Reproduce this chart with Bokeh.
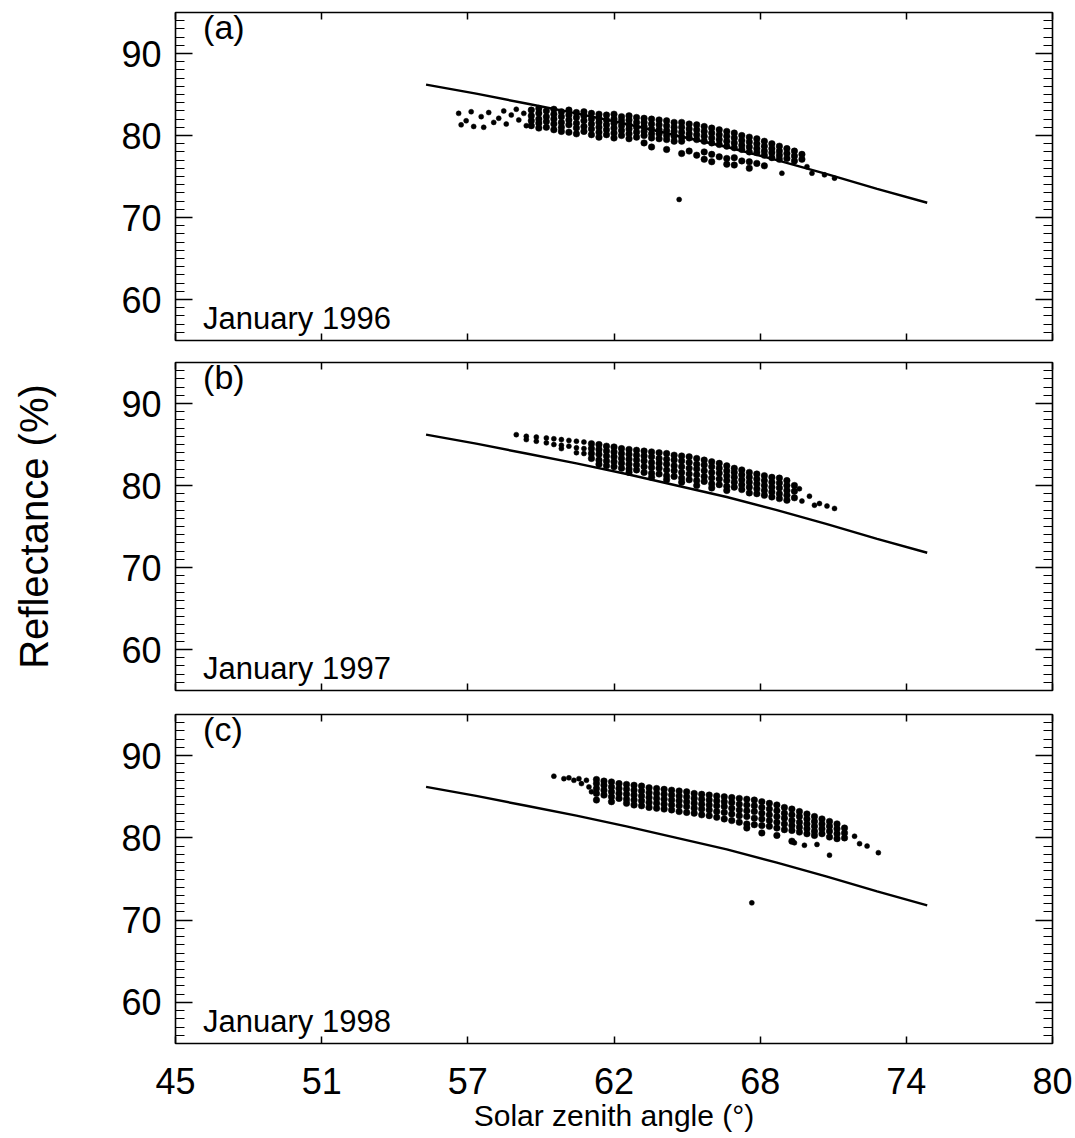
import math
from bokeh.plotting import figure
from bokeh.layouts import column
from bokeh.models import (LinearAxis, FixedTicker, CustomJSTickFormatter, Label, Range1d,
                          CustomLabelingPolicy)
from bokeh.embed import file_html
from bokeh.resources import INLINE

FONT = "Liberation Sans"

# ---------------- axes data ----------------
x_ticks = [45.0, 50.8333, 56.6667, 62.5, 68.3333, 74.1667, 80.0]
x_tick_labels = ["45", "51", "57", "62", "68", "74", "80"]
y_ticks = [60, 70, 80, 90]
y_minor = [v for v in range(55, 96)]

# ---------------- model curve (solid line, same in all panels) ----------------
model_x = [55, 57, 59, 61, 63, 65, 67, 69, 71, 73, 75]
model_y = [86.2, 85.1, 83.9, 82.7, 81.4, 80.0, 78.6, 77.0, 75.3, 73.5, 71.8]

# ---------------- (a) January 1996 ----------------
a_cols_x = [59.2, 59.5, 59.8, 60.1, 60.4, 60.7, 61.0, 61.3, 61.6, 61.9, 62.2, 62.5, 62.8,
            63.1, 63.4, 63.7, 64.0, 64.3, 64.6, 64.9, 65.2, 65.5, 65.8, 66.1, 66.4, 66.7,
            67.0, 67.3, 67.6, 67.9, 68.2, 68.5, 68.8, 69.1, 69.4, 69.7, 70.0]
a_cols_y = [
    [83.1, 82.4, 81.8, 81.2],
    [83.3, 82.7, 82.0, 81.5, 80.9],
    [83.0, 82.3, 81.7, 81.0],
    [83.2, 82.6, 82.0, 81.4, 80.7],
    [82.9, 82.3, 81.6, 81.0, 80.5],
    [83.1, 82.5, 81.9, 81.3, 80.4],
    [82.8, 82.2, 81.5, 80.9, 80.2],
    [82.9, 82.4, 81.8, 81.1, 80.5],
    [82.7, 82.0, 81.4, 80.8, 80.1],
    [82.6, 82.1, 81.6, 81.0, 80.4, 79.8],
    [82.5, 81.9, 81.3, 80.7, 80.1],
    [82.6, 82.0, 81.5, 80.9, 80.3, 79.7],
    [82.3, 81.8, 81.2, 80.6, 80.0],
    [82.4, 81.9, 81.3, 80.8, 80.2, 79.6],
    [82.2, 81.6, 81.0, 80.4, 79.8],
    [82.1, 81.6, 81.1, 80.5, 80.0, 79.1],
    [82.0, 81.4, 80.8, 80.2, 79.7, 78.6],
    [81.9, 81.3, 80.7, 80.2, 79.6],
    [81.8, 81.2, 80.6, 80.0, 79.5, 78.3],
    [81.6, 81.0, 80.5, 79.9, 79.3],
    [81.6, 81.0, 80.4, 79.8, 79.3, 77.8],
    [81.4, 80.8, 80.2, 79.7, 78.1],
    [81.3, 80.7, 80.1, 79.5, 77.6],
    [81.1, 80.5, 79.9, 79.3, 78.0, 77.1],
    [80.9, 80.3, 79.7, 79.1, 77.7, 76.8],
    [80.7, 80.1, 79.5, 78.9, 77.4],
    [80.5, 79.9, 79.3, 78.7, 77.2, 76.5],
    [80.3, 79.7, 79.1, 78.5, 77.3, 76.4],
    [80.0, 79.4, 78.8, 78.3, 76.9],
    [79.8, 79.2, 78.6, 78.0, 76.8, 76.0],
    [79.6, 79.0, 78.4, 77.9, 76.6],
    [79.3, 78.7, 78.1, 77.6, 76.3],
    [79.0, 78.4, 77.9, 77.3],
    [78.7, 78.1, 77.6, 77.1],
    [78.4, 77.8, 77.2],
    [78.1, 77.5, 76.9],
    [77.7, 77.1],
]
a_extra_x = [56.3, 56.4, 56.6, 56.8, 56.9, 57.2, 57.3, 57.5, 57.7, 57.9, 58.1, 58.2, 58.4,
             58.6, 58.7, 58.9, 59.0, 69.2, 70.4, 70.9, 71.3, 70.2, 65.1]
a_extra_y = [82.7, 81.3, 81.8, 82.9, 81.1, 82.3, 81.0, 82.8, 81.6, 82.1, 83.0, 81.4, 82.5,
             83.2, 81.9, 82.7, 81.2, 75.4, 75.4, 75.2, 74.8, 76.2, 72.2]

# ---------------- (b) January 1997 ----------------
b_cols_x = [61.6, 61.9, 62.2, 62.5, 62.8, 63.1, 63.4, 63.7, 64.0, 64.3, 64.6, 64.9, 65.2,
            65.5, 65.8, 66.1, 66.4, 66.7, 67.0, 67.3, 67.6, 67.9, 68.2, 68.5, 68.8, 69.1,
            69.4, 69.7]
b_cols_y = [
    [85.1, 84.5, 83.9, 83.3],
    [85.0, 84.4, 83.8, 83.1, 82.6],
    [84.8, 84.2, 83.6, 83.0, 82.4],
    [84.7, 84.1, 83.5, 82.9, 82.3],
    [84.5, 83.9, 83.3, 82.7, 82.1],
    [84.4, 83.8, 83.2, 82.6, 82.0, 81.6],
    [84.3, 83.7, 83.1, 82.5, 81.9],
    [84.2, 83.6, 83.0, 82.3, 81.6],
    [84.1, 83.5, 82.8, 82.2, 81.5, 81.0],
    [84.0, 83.3, 82.7, 82.1, 81.4],
    [83.9, 83.2, 82.6, 81.9, 81.2, 80.7],
    [83.7, 83.1, 82.4, 81.8, 81.1],
    [83.6, 83.0, 82.3, 81.6, 80.9, 80.4],
    [83.5, 82.8, 82.1, 81.4, 80.7],
    [83.3, 82.6, 82.0, 81.3, 80.6, 80.0],
    [83.1, 82.5, 81.8, 81.1, 80.5],
    [82.9, 82.3, 81.6, 80.9, 80.2, 79.7],
    [82.7, 82.1, 81.5, 80.8, 80.1],
    [82.4, 81.8, 81.2, 80.6, 79.9, 79.4],
    [82.1, 81.6, 81.0, 80.4, 79.8],
    [81.9, 81.3, 80.7, 80.1, 79.5],
    [81.6, 81.0, 80.4, 79.8, 79.1],
    [81.4, 80.8, 80.2, 79.6, 79.0],
    [81.2, 80.6, 80.0, 79.4, 78.8],
    [81.0, 80.4, 79.8, 79.2, 78.6],
    [80.9, 80.3, 79.7, 79.0, 78.4],
    [80.6, 80.0, 79.4, 78.8, 78.2],
    [80.0, 79.3, 78.5],
]
b_extra_x = [58.6, 59.0, 59.0, 59.4, 59.4, 59.8, 59.8, 60.1, 60.1, 60.4, 60.4, 60.4, 60.7,
             60.7, 61.0, 61.0, 61.0, 61.3, 61.3, 61.3, 69.9, 70.0, 70.3, 70.5, 70.7, 71.0,
             71.3]
b_extra_y = [86.2, 86.0, 85.6, 85.9, 85.4, 85.8, 85.2, 85.7, 85.0, 85.6, 84.9, 84.5, 85.5,
             84.8, 85.4, 84.6, 84.0, 85.3, 84.5, 83.9, 79.6, 78.1, 78.7, 77.6, 77.8, 77.5,
             77.2]

# ---------------- (c) January 1998 ----------------
c_cols_x = [61.8, 62.1, 62.4, 62.7, 63.0, 63.3, 63.6, 63.9, 64.2, 64.5, 64.8, 65.1, 65.4,
            65.7, 66.0, 66.3, 66.6, 66.9, 67.2, 67.5, 67.8, 68.1, 68.4, 68.7, 69.0, 69.3,
            69.6, 69.9, 70.2, 70.5, 70.8, 71.1, 71.4, 71.7]
c_cols_y = [
    [87.1, 86.6, 86.0, 85.4, 84.6],
    [86.9, 86.4, 85.8, 85.2],
    [86.8, 86.2, 85.6, 85.0, 84.4],
    [86.6, 86.0, 85.4, 84.8],
    [86.5, 85.9, 85.3, 84.7, 84.2],
    [86.4, 85.8, 85.2, 84.6, 84.0],
    [86.3, 85.7, 85.1, 84.5, 83.9],
    [86.1, 85.5, 84.9, 84.3, 83.7],
    [86.0, 85.4, 84.8, 84.2, 83.6],
    [85.9, 85.3, 84.7, 84.1, 83.5],
    [85.8, 85.2, 84.6, 84.0, 83.4],
    [85.7, 85.1, 84.5, 83.9, 83.2],
    [85.6, 85.0, 84.4, 83.8, 83.1],
    [85.4, 84.8, 84.2, 83.6, 83.0],
    [85.3, 84.7, 84.1, 83.5, 82.8],
    [85.2, 84.6, 84.0, 83.4, 82.7],
    [85.1, 84.5, 83.9, 83.2, 82.5],
    [85.0, 84.4, 83.8, 83.1, 82.3],
    [84.9, 84.3, 83.6, 82.9, 82.1],
    [84.8, 84.1, 83.4, 82.7, 81.9],
    [84.7, 84.0, 83.3, 82.6, 81.7, 81.2],
    [84.6, 83.9, 83.2, 82.4, 81.6],
    [84.4, 83.7, 83.0, 82.3, 81.5, 80.6],
    [84.2, 83.5, 82.8, 82.1, 81.4],
    [84.0, 83.3, 82.6, 81.9, 81.2, 80.3],
    [83.7, 83.0, 82.4, 81.7, 81.0],
    [83.5, 82.8, 82.1, 81.5, 80.9, 79.6],
    [83.2, 82.6, 81.9, 81.3, 80.7],
    [82.9, 82.3, 81.7, 81.1, 80.5],
    [82.6, 82.0, 81.4, 80.8, 80.3],
    [82.3, 81.7, 81.1, 80.5],
    [82.0, 81.4, 80.8, 80.1],
    [81.7, 81.1, 80.5, 79.9],
    [81.2, 80.6, 80.0],
]
c_extra_x = [60.1, 60.5, 60.7, 60.9, 61.1, 61.2, 61.4, 61.5, 61.6, 72.1, 72.3, 72.6, 73.05,
             71.1, 70.6, 69.7, 70.1, 68.0]
c_extra_y = [87.5, 87.2, 87.3, 87.0, 87.2, 86.6, 87.0, 86.2, 85.6, 80.2, 79.3, 79.0, 78.2,
             77.9, 79.2, 79.4, 79.1, 72.1]


def flatten(cols_x, cols_y):
    xs, ys = [], []
    for cx, cy in zip(cols_x, cols_y):
        for v in cy:
            xs.append(cx)
            ys.append(v)
    return xs, ys


xfmt_code = """
let best = 0;
for (let i = 0; i < tvals.length; i++) {
    if (Math.abs(tvals[i] - tick) < Math.abs(tvals[best] - tick)) { best = i; }
}
return tlabels[best];
"""


def style_axis(ax, show_labels, tick_in, minor_in):
    ax.axis_line_color = None
    ax.major_tick_in = tick_in
    ax.major_tick_out = 0
    ax.minor_tick_in = minor_in
    ax.minor_tick_out = 0
    ax.major_tick_line_width = 1.5
    ax.minor_tick_line_width = 1.2
    ax.major_tick_line_color = "black"
    ax.minor_tick_line_color = "black"
    ax.major_label_text_font = FONT
    ax.major_label_text_color = "black"
    if show_labels:
        ax.major_label_text_font_size = "36px"
    else:
        ax.formatter = CustomJSTickFormatter(code="return '';")
        ax.major_label_policy = CustomLabelingPolicy(code="return [];")
        ax.major_label_text_font_size = "1px"
        ax.major_label_standoff = 0


def make_panel(cols_x, cols_y, ex_x, ex_y, tag, month, height, b_top, b_bottom, show_x):
    p = figure(width=1075, height=height, output_backend="svg", toolbar_location=None,
               x_range=Range1d(45, 80), y_range=Range1d(55, 95),
               x_axis_location=None, y_axis_location=None,
               min_border_left=175, min_border_right=23,
               min_border_top=b_top, min_border_bottom=b_bottom)
    p.grid.visible = False
    p.outline_line_color = "black"
    p.outline_line_width = 1.6
    p.background_fill_color = "white"
    p.border_fill_color = "white"

    left = LinearAxis(ticker=FixedTicker(ticks=y_ticks, minor_ticks=y_minor))
    style_axis(left, True, 17, 9)
    left.major_label_standoff = 14
    p.add_layout(left, "left")
    right = LinearAxis(ticker=FixedTicker(ticks=y_ticks, minor_ticks=y_minor))
    style_axis(right, False, 17, 9)
    p.add_layout(right, "right")

    top = LinearAxis(ticker=FixedTicker(ticks=x_ticks, minor_ticks=[]))
    style_axis(top, False, 7, 0)
    p.add_layout(top, "above")
    bottom = LinearAxis(ticker=FixedTicker(ticks=x_ticks, minor_ticks=[]))
    style_axis(bottom, show_x, 7, 0)
    if show_x:
        bottom.formatter = CustomJSTickFormatter(args=dict(tvals=x_ticks, tlabels=x_tick_labels),
                                                 code=xfmt_code)
        bottom.major_label_standoff = 24
        bottom.axis_label = "Solar zenith angle (°)"
        bottom.axis_label_text_font = FONT
        bottom.axis_label_text_font_size = "30px"
        bottom.axis_label_text_font_style = "normal"
        bottom.axis_label_text_color = "black"
        bottom.axis_label_standoff = 2
    p.add_layout(bottom, "below")

    dx, dy = flatten(cols_x, cols_y)
    p.line(model_x, model_y, line_color="black", line_width=2.4)
    p.scatter(dx, dy, size=6.5, marker="circle", fill_color="black", line_color="black", line_width=0.5)
    p.scatter(ex_x, ex_y, size=5, marker="circle", fill_color="black", line_color="black", line_width=0.5)

    p.add_layout(Label(x=46.1, y=95.6, text=tag, text_font=FONT, text_font_size="34px",
                       text_baseline="top", text_align="left", text_color="black"))
    p.add_layout(Label(x=46.1, y=55.6, text=month, text_font=FONT, text_font_size="31px",
                       text_baseline="bottom", text_align="left", text_color="black"))
    return p, left


pa, _ = make_panel(a_cols_x, a_cols_y, a_extra_x, a_extra_y, "(a)", "January 1996", 352, 12, 12, False)
pb, pb_left = make_panel(b_cols_x, b_cols_y, b_extra_x, b_extra_y, "(b)", "January 1997", 352, 10, 14, False)
pc, _ = make_panel(c_cols_x, c_cols_y, c_extra_x, c_extra_y, "(c)", "January 1998", 434, 10, 95, True)

pb_left.axis_label = "Reflectance (%)"
pb_left.axis_label_text_font = FONT
pb_left.axis_label_text_font_size = "40px"
pb_left.axis_label_text_font_style = "normal"
pb_left.axis_label_text_color = "black"
pb_left.axis_label_standoff = 62

layout = column(pa, pb, pc, spacing=0)
open("out.html", "w").write(file_html(layout, INLINE))
